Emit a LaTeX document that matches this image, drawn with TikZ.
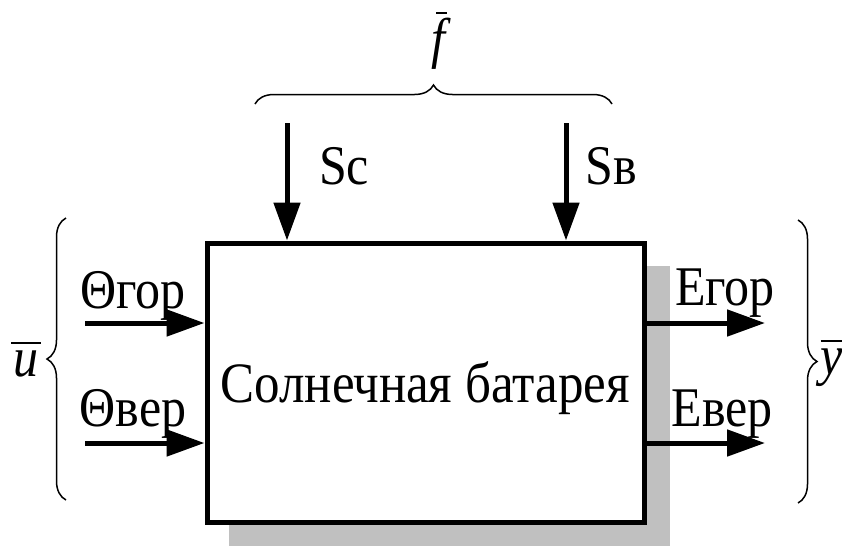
\documentclass[tikz,border=0pt]{standalone}
\usepackage{fontspec}
\usepackage{graphicx}
\setmainfont{Liberation Serif}
\usetikzlibrary{arrows.meta,decorations.pathreplacing,calc}
\tikzset{
  arr/.style={line width=5pt,-{Triangle[length=38pt,width=26pt]}},
  lbl/.style={font=\fontsize{50}{54}\selectfont,inner sep=0pt},
  mlbl/.style={font=\fontsize{50}{54}\selectfont\itshape,inner sep=0pt},
  brc/.style={line width=1.5pt,decorate,decoration={brace,amplitude=19pt}},
  barline/.style={line width=2pt},
}
\newcommand{\vs}[1]{\scalebox{1}[1.12]{#1}}
\begin{document}
\begin{tikzpicture}[x=1pt,y=-1pt]
\useasboundingbox (0,0) rectangle (842,547);
\fill[fill={rgb,255:red,192;green,192;blue,192}] (229,266) rectangle (670,546);
\node[draw,line width=5pt,fill=white,minimum width=437pt,minimum height=279pt,inner sep=0pt] (box) at (425.5,382.5) {};
\node[inner sep=0pt,font=\fontsize{51}{55}\selectfont] (title) at (425,388) {\vs{Солнечная батарея}};
\coordinate (c1) at (287,123);
\coordinate (c2) at (566,123);
\draw[arr] (c1) -- (c1 |- box.north);
\draw[arr] (c2) -- (c2 |- box.north);
\coordinate (a1) at (85,323);
\coordinate (a2) at (85,443);
\draw[arr] (a1) -- (a1 -| box.west);
\draw[arr] (a2) -- (a2 -| box.west);
\coordinate (b1) at (765,323);
\coordinate (b2) at (765,443);
\draw[arr] (b1 -| box.east) -- (b1);
\draw[arr] (b2 -| box.east) -- (b2);
\node[lbl] (sc) at (344,166) {\vs{Sc}};
\node[lbl] (sv) at (611,166) {\vs{Sв}};
\node[lbl] (tg) at (133,296) {\vs{Θгор}};
\node[lbl] (tv) at (133,414) {\vs{Θвер}};
\node[lbl] (eg) at (725,293) {\vs{Егор}};
\node[lbl] (ev) at (722,414) {\vs{Евер}};
\draw[brc] (255,104) -- (612,104);
\draw[brc] (66,500) -- (66,218);
\draw[brc] (798,220) -- (798,503);
\node[mlbl] (f) at (438,44) {\vs{f}};
\node[mlbl] (u) at (26,364) {\vs{u}};
\node[mlbl] (y) at (832,368) {\vs{y}};
\draw[barline] (436,13) -- (447,13);
\draw[barline] ($(u.north west)+(-2,-8)$) -- ($(u.north east)+(2,-8)$);
\draw[barline] ($(y.north west)+(0,-8)$) -- ($(y.north east)+(4,-8)$);
\end{tikzpicture}
\end{document}
